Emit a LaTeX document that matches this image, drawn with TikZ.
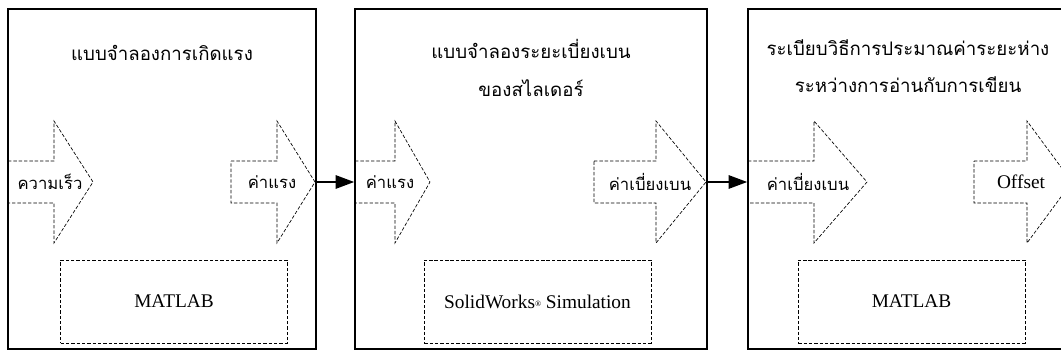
\documentclass[tikz,border=0pt]{standalone}
\usepackage{fontspec}
\setmainfont{Liberation Serif}
\newfontfamily\thaifont[Script=Thai]{Loma}
\usetikzlibrary{arrows.meta}

\tikzset{
  modelbox/.style={draw, line width=1.1pt, minimum height=255pt, inner sep=0pt},
  toolbox/.style={draw, dashed, dash pattern=on 2.6pt off 1.4pt, line width=0.5pt,
    minimum height=62.25pt, minimum width=170pt, inner sep=0pt, font=\fontsize{14.5}{16}\selectfont},
  flow/.style={draw, dash pattern=on 2.6pt off 1.4pt, line width=0.5pt},
  title/.style={align=center, font=\thaifont\fontsize{14}{28}\selectfont},
  tag/.style={inner sep=0pt, font=\thaifont\fontsize{12.5}{14}\selectfont},
  link/.style={line width=1.5pt, -{Triangle[length=14pt,width=10pt]}}
}

% dashed in/out arrow: name, body start, head start, tip, label, label x
\newcommand{\flowarrow}[6]{%
  \draw[flow] (#2,161) -- (#3,161) -- (#3,121) -- (#4,182) -- (#3,243) -- (#3,203) -- (#2,203) -- cycle;
  \coordinate (#1tip) at (#4,182);
  \node[tag] (#1) at (#6,182) {#5};
}

\begin{document}
\begin{tikzpicture}[x=0.75pt, y=-0.75pt]
  \useasboundingbox (0,0) rectangle (1061,354);
  \clip (0,0) rectangle (1061,354);

  % Model blocks
  \node[modelbox, minimum width=231pt] (force) at (162,179) {};
  \node[modelbox, minimum width=264pt] (deflect) at (531,179) {};
  \node[modelbox, minimum width=238.5pt] (offset) at (907,179) {};

  % Titles
  \node[title] (forcetitle) at (162,53) {แบบจำลองการเกิดแรง};
  \node[title] (deflecttitle) at (531,68) {แบบจำลองระยะเบี่ยงเบน\\ของสไลเดอร์};
  \node[title] (offsettitle) at (908,66) {ระเบียบวิธีการประมาณค่าระยะห่าง\\ระหว่างการอ่านกับการเขียน};

  % Inputs and outputs
  \flowarrow{speedin}{8}{54}{93}{ความเร็ว}{50}
  \flowarrow{forceout}{231}{277}{315}{ค่าแรง}{272}
  \flowarrow{forcein}{355}{395}{430}{ค่าแรง}{390}
  \flowarrow{deflectout}{594}{656}{706}{ค่าเบี่ยงเบน}{650}
  \flowarrow{deflectin}{748}{814}{867}{ค่าเบี่ยงเบน}{808}
  \flowarrow{offsetout}{974}{1027}{1072}{\fontsize{14.5}{16}\rmfamily Offset}{1021}

  % Software used
  \node[toolbox] (matlabA) at (174,301.5) {MATLAB};
  \node[toolbox] (solid) at (537.5,301.5) {SolidWorks{\fontsize{6}{6}\selectfont\raisebox{1.5pt}{®}} Simulation};
  \node[toolbox] (matlabB) at (911.5,301.5) {MATLAB};

  % Connections between blocks
  \draw[link] (forceouttip) -- (forceouttip -| deflect.west);
  \draw[link] (deflectouttip) -- (deflectouttip -| offset.west);
\end{tikzpicture}
\end{document}
